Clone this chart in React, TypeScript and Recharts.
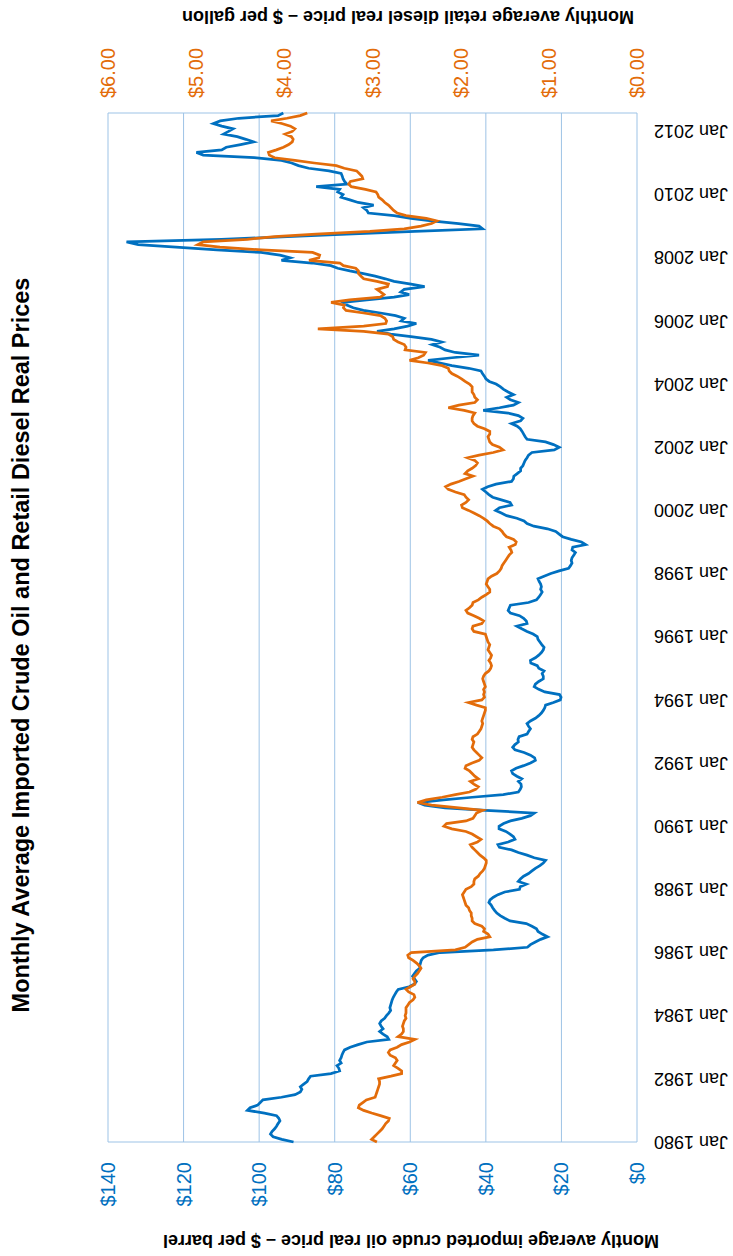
import { LineChart, Line, XAxis, YAxis, CartesianGrid, ReferenceLine } from "recharts";

// Monthly real prices, Jan 1980 .. Aug 2012 (one row per year)
const crudeReal = [
  90.9, 94, 96.3, 97, 96.6, 95.9, 95.4, 95, 94.5, 94.8, 95.4, 98.6,
  103.1, 102.4, 100.4, 99.7, 99, 94.1, 90.5, 89.1, 88.7, 89.1, 88.2, 87.3,
  86.9, 86.4, 81, 78.7, 78.9, 79.4, 78.3, 78.7, 78.3, 78.1, 77.8, 77.4,
  75.9, 73.8, 71.5, 65.7, 66.1, 67.2, 68.1, 67.2, 67.7, 68.1, 67.7, 66.8,
  66.3, 65.7, 65.2, 65.4, 65.2, 65, 64.8, 64.5, 64.1, 63.7, 63.2, 60.3,
  58.9, 58.4, 58.9, 59.4, 58.9, 58.4, 57.5, 57.5, 57.3, 57.1, 56.6, 55.3,
  52.1, 38, 29, 28.2, 26.9, 25.5, 23.7, 25.1, 26.2, 26.6, 27.8, 29.3,
  33.6, 35, 36.2, 37.1, 37.7, 38.2, 38.6, 39.2, 38.9, 38, 36.8, 35,
  31.1, 30.9, 29.3, 31.4, 30.8, 30, 28.7, 27.8, 26.9, 25.7, 24.8, 24.2,
  27.2, 29.1, 31.4, 33.2, 36.4, 36.8, 34.1, 32.3, 32.7, 33.6, 34.7, 36.5,
  36.5, 35.3, 33.5, 30.5, 28.2, 27.2, 40, 50.8, 56.2, 58, 51.2, 43.6,
  35.4, 31.4, 30.9, 30.6, 30.7, 31.4, 30.5, 31.8, 32.9, 33.2, 32, 30,
  28.2, 26.9, 27.1, 28.2, 29.9, 32.3, 32.9, 32.3, 31.4, 31.5, 31.2, 29.1,
  28.7, 28.2, 28.7, 29.1, 28.2, 26.9, 26, 25.3, 24.8, 24.4, 24.2, 22.1,
  20.3, 20.1, 20.5, 24.4, 26, 27.2, 26.9, 26, 24.8, 24.8, 25.1, 24.6,
  26, 26.4, 28.1, 28.2, 26.9, 26, 25.3, 24.8, 24.6, 25.2, 25.7, 26.2,
  26.4, 27.5, 29.1, 30.5, 31.8, 29.1, 29.3, 30, 31.1, 33.5, 34.1, 33.8,
  33.5, 28.7, 26.6, 26, 25.5, 25.1, 25.5, 25.3, 25.5, 25.9, 26.2, 24.6,
  22.8, 20.6, 18.1, 17.6, 17.2, 17.4, 17.2, 16.7, 16.3, 17.2, 17, 13.6,
  14.7, 17.4, 19.7, 20.6, 21.5, 23.7, 27.3, 29.1, 29.9, 31.8, 34.5, 35.9,
  37.4, 36.4, 33.2, 33.6, 35.9, 38.2, 39.2, 40, 40.9, 39.5, 37.3, 33.2,
  32.7, 32.6, 31.7, 30.8, 30.8, 30.2, 29.9, 29.6, 29.1, 28.7, 27.8, 21.9,
  20.6, 22.1, 24.2, 29.1, 29.6, 30, 30.4, 30.9, 31.7, 33.2, 30.8, 30.2,
  31.4, 34.1, 40.7, 36.4, 32.7, 31.4, 33.5, 34.5, 32.7, 34.1, 35.3, 36.2,
  37.3, 39.1, 40, 40.4, 40.9, 41.3, 44.5, 49, 52.1, 55.3, 49, 41.8,
  48.1, 50.8, 52.1, 54.2, 51.7, 54.4, 59.8, 65.2, 68.8, 64.3, 60.7, 58.4,
  62.4, 61.6, 63.9, 67.9, 72.4, 75.1, 76.8, 77.8, 71.5, 64.3, 60.3, 62.5,
  61.6, 56.2, 59.8, 64.3, 66.6, 69.3, 72.4, 76, 79.2, 81, 86, 94.1,
  91.8, 94.5, 99.5, 111.2, 122, 132, 135.1, 110, 92.5, 76.8, 58.8, 40.9,
  41.8, 47.2, 54.4, 59.8, 64.3, 71.1, 71.5, 72.4, 69.7, 73.8, 76, 78.3,
  77.8, 79.2, 78.7, 84.9, 76.8, 77.4, 77.8, 78, 78.3, 81.5, 86.9, 89.6,
  91.4, 94.1, 101.3, 114.8, 116.6, 109.9, 108.7, 104.9, 101.5, 103.5, 105.8, 109.4,
  108.1, 106.9, 109.9, 112.1, 110.3, 105.4, 95, 93.6,
];

const dieselReal = [
  2.95, 3.01, 2.98, 2.95, 2.92, 2.89, 2.87, 2.85, 2.82, 2.81, 2.91, 3.01,
  3.10, 3.16, 3.15, 3.11, 3.07, 2.97, 2.96, 2.95, 2.94, 2.93, 2.92, 2.92,
  2.93, 2.79, 2.67, 2.67, 2.71, 2.76, 2.74, 2.72, 2.74, 2.80, 2.82, 2.80,
  2.72, 2.67, 2.58, 2.52, 2.71, 2.67, 2.65, 2.65, 2.66, 2.65, 2.64, 2.62,
  2.63, 2.62, 2.62, 2.62, 2.60, 2.58, 2.54, 2.52, 2.53, 2.59, 2.62, 2.57,
  2.52, 2.52, 2.54, 2.52, 2.49, 2.47, 2.45, 2.47, 2.50, 2.54, 2.59, 2.60,
  2.56, 2.06, 1.95, 1.91, 1.87, 1.81, 1.67, 1.69, 1.74, 1.73, 1.76, 1.84,
  1.87, 1.87, 1.88, 1.88, 1.90, 1.91, 1.94, 1.95, 1.96, 1.97, 1.98, 1.96,
  1.94, 1.88, 1.85, 1.85, 1.84, 1.80, 1.78, 1.75, 1.73, 1.72, 1.71, 1.71,
  1.74, 1.78, 1.81, 1.84, 1.87, 1.89, 1.81, 1.77, 1.82, 1.87, 1.94, 2.10,
  2.19, 2.16, 1.94, 1.86, 1.84, 1.82, 1.75, 2.02, 2.33, 2.49, 2.39, 2.21,
  2.06, 1.90, 1.83, 1.80, 1.85, 1.89, 1.80, 1.84, 1.87, 1.90, 1.95, 1.94,
  1.87, 1.79, 1.76, 1.79, 1.82, 1.85, 1.87, 1.86, 1.85, 1.87, 1.86, 1.81,
  1.79, 1.77, 1.76, 1.75, 1.76, 1.75, 1.74, 1.73, 1.72, 1.72, 1.82, 1.91,
  1.76, 1.73, 1.74, 1.73, 1.74, 1.72, 1.73, 1.74, 1.75, 1.74, 1.72, 1.68,
  1.66, 1.65, 1.66, 1.68, 1.66, 1.65, 1.67, 1.69, 1.68, 1.67, 1.69, 1.70,
  1.71, 1.72, 1.85, 1.87, 1.86, 1.76, 1.74, 1.79, 1.85, 1.92, 1.94, 1.90,
  1.87, 1.86, 1.80, 1.76, 1.71, 1.67, 1.67, 1.69, 1.71, 1.70, 1.69, 1.65,
  1.59, 1.56, 1.54, 1.53, 1.51, 1.49, 1.47, 1.45, 1.42, 1.43, 1.45, 1.38,
  1.37, 1.40, 1.48, 1.51, 1.53, 1.56, 1.63, 1.67, 1.70, 1.74, 1.79, 1.85,
  1.91, 1.98, 1.99, 1.94, 1.91, 1.94, 1.96, 2.06, 2.14, 2.17, 2.11, 2.02,
  1.94, 1.86, 1.95, 1.92, 1.87, 1.83, 1.81, 1.84, 1.92, 1.79, 1.63, 1.52,
  1.56, 1.64, 1.67, 1.68, 1.69, 1.67, 1.67, 1.73, 1.81, 1.85, 1.87, 1.87,
  1.86, 1.84, 1.96, 2.14, 2.02, 1.84, 1.81, 1.84, 1.85, 1.87, 1.87, 1.87,
  1.90, 1.95, 1.99, 2.04, 2.10, 2.13, 2.14, 2.21, 2.37, 2.58, 2.48, 2.42,
  2.40, 2.63, 2.62, 2.64, 2.71, 2.76, 2.77, 2.82, 3.10, 3.62, 3.10, 2.85,
  2.84, 2.86, 2.91, 3.10, 3.30, 3.33, 3.32, 3.47, 3.26, 2.91, 2.87, 2.91,
  2.95, 2.83, 2.82, 2.95, 3.10, 3.13, 3.16, 3.16, 3.19, 3.33, 3.37, 3.72,
  3.61, 3.60, 3.68, 4.26, 4.73, 4.98, 4.92, 4.42, 4.11, 3.64, 3.03, 2.64,
  2.45, 2.33, 2.27, 2.39, 2.62, 2.72, 2.76, 2.79, 2.82, 2.86, 2.89, 2.93,
  2.94, 2.96, 3.08, 3.24, 3.27, 3.25, 3.11, 3.12, 3.15, 3.18, 3.32, 3.41,
  3.66, 3.88, 4.11, 4.17, 4.18, 4.09, 4.01, 3.95, 3.91, 3.90, 3.92, 3.99,
  3.91, 3.88, 3.93, 4.03, 4.15, 3.97, 3.82, 3.74,
];

const startYear = 1980;
const yearTicks = [1980, 1982, 1984, 1986, 1988, 1990, 1992, 1994, 1996, 1998, 2000, 2002, 2004, 2006, 2008, 2010, 2012];
const crudeTicks = [0, 20, 40, 60, 80, 100, 120, 140];
const dieselTicks = [0, 1, 2, 3, 4, 5, 6];

const rows = crudeReal.map((crude, i) => ({ month: i, crude, diesel: dieselReal[i] }));
const lastMonth = rows.length - 1;

const FONT = "'Liberation Sans', Arial, sans-serif";
const BLUE = "#0070C0";
const ORANGE = "#E36C0A";
const GRID = "#9DC3E6";

const CrudeTick = ({ x, y, payload }: any) => (
  <text transform={`translate(${x},${y + 20}) rotate(-90)`} textAnchor="end" dy="0.35em"
    fill={BLUE} fontSize={20} fontFamily={FONT}>
    ${payload.value}
  </text>
);

const DieselTick = ({ x, y, payload }: any) => (
  <text transform={`translate(${x},${y - 15}) rotate(-90)`} textAnchor="start" dy="0.35em"
    fill={ORANGE} fontSize={20} fontFamily={FONT}>
    ${Number(payload.value).toFixed(2)}
  </text>
);

const YearTick = ({ x, y, payload }: any) => (
  <text transform={`translate(${x + 91},${y}) rotate(180)`} textAnchor="start" dy="0.35em"
    fill="#000" fontSize={18} fontFamily={FONT}>
    Jan {startYear + payload.value / 12}
  </text>
);

const titleBase = {
  position: "absolute" as const,
  whiteSpace: "nowrap" as const,
  fontFamily: FONT,
  fontWeight: 700,
  color: "#000",
  lineHeight: 1,
};

export default function App() {
  return (
    <div style={{ position: "absolute", left: 0, top: 0, width: 733, height: 1256, background: "#fff" }}>
      <LineChart width={733} height={1256} data={rows} layout="vertical"
        margin={{ top: 0, right: 0, bottom: 0, left: 108 }}>
        <CartesianGrid xAxisId="crude" horizontal={false} stroke={GRID} strokeWidth={1} />
        <XAxis xAxisId="crude" type="number" orientation="bottom" domain={[0, 140]} ticks={crudeTicks}
          reversed height={114} tickSize={0} tickMargin={0} axisLine={false} tickLine={false}
          tick={<CrudeTick />} interval={0} />
        <XAxis xAxisId="diesel" type="number" orientation="top" domain={[0, 6]} ticks={dieselTicks}
          reversed height={113} tickSize={0} tickMargin={0} axisLine={false} tickLine={false}
          tick={<DieselTick />} interval={0} />
        <YAxis type="number" dataKey="month" orientation="right" domain={[0, lastMonth]} reversed
          ticks={yearTicks.map((yr) => (yr - startYear) * 12)} width={96} tickSize={0} tickMargin={0}
          axisLine={false} tickLine={false} tick={<YearTick />} interval={0} />
        <ReferenceLine xAxisId="crude" y={0} stroke={GRID} strokeWidth={1} />
        <ReferenceLine xAxisId="crude" y={lastMonth} stroke={GRID} strokeWidth={1} />
        <Line xAxisId="crude" dataKey="crude" type="linear" stroke={BLUE} strokeWidth={2.75}
          dot={false} isAnimationActive={false} />
        <Line xAxisId="diesel" dataKey="diesel" type="linear" stroke={ORANGE} strokeWidth={2.75}
          dot={false} isAnimationActive={false} />
      </LineChart>

      <div style={{ ...titleBase, left: 22, top: 645, fontSize: 23.5, transform: "translate(-50%, -50%) rotate(-90deg)" }}>
        Monthly Average Imported Crude Oil and Retail Diesel Real Prices
      </div>
      <div style={{ ...titleBase, left: 408, top: 17, fontSize: 18, transform: "translate(-50%, -50%) rotate(180deg)" }}>
        Monthly average retail diesel real price – $ per gallon
      </div>
      <div style={{ ...titleBase, left: 411, top: 1241, fontSize: 18, transform: "translate(-50%, -50%) rotate(180deg)" }}>
        Montly average imported crude oil real price – $ per barrel
      </div>
    </div>
  );
}
